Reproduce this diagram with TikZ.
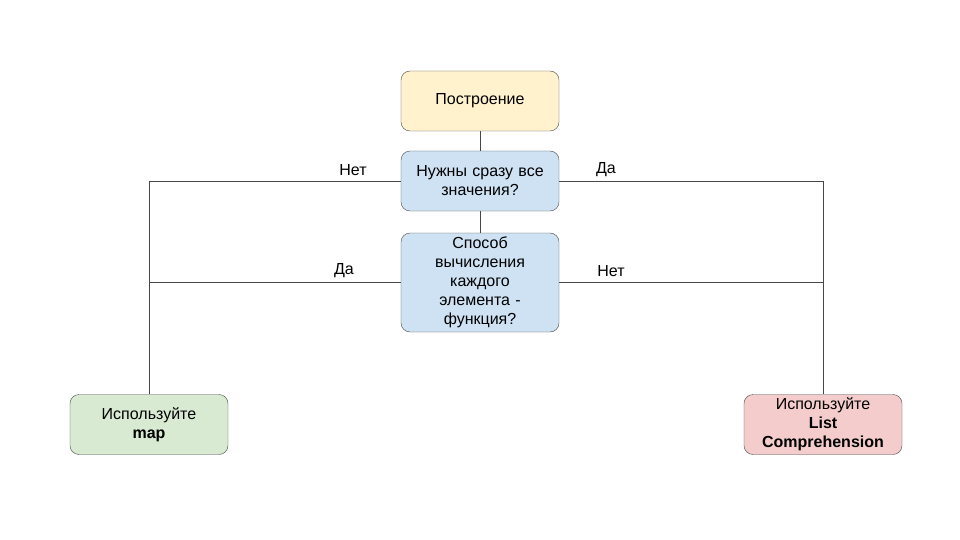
\documentclass[tikz,border=0pt]{standalone}
\usepackage{fontspec}
\setmainfont{Liberation Sans}
\usetikzlibrary{positioning, calc}
\definecolor{buildfill}{HTML}{FFF2CC}
\definecolor{askfill}{HTML}{CFE2F3}
\definecolor{mapfill}{HTML}{D9EAD3}
\definecolor{listfill}{HTML}{F4CCCC}
\definecolor{edgegray}{HTML}{474747}
\tikzset{
  box/.style={draw=edgegray, rounded corners=9pt, minimum width=158pt,
    minimum height=60pt, text width=150pt, align=center},
  lbl/.style={inner sep=1pt},
  wire/.style={draw=edgegray, line width=0.8pt}
}

\begin{document}
\begin{tikzpicture}[x=1pt, y=-1pt, font=\fontsize{16}{19}\selectfont]
    \useasboundingbox (0, 0) rectangle (960, 540);
    % boxes
    \node[box, fill=buildfill] (build) at (480, 101) {Построение};
    \node[box, fill=askfill] (need) at (480, 181) {Нужны сразу все\\значения?};
    \node[box, fill=askfill, minimum height=99pt] (func) at (480, 282.5)
        {Способ\\вычисления\\каждого\\элемента -\\функция?};
    \node[box, fill=mapfill] (usemap) at (149, 424.5) {Используйте\\\textbf{map}};
    \node[box, fill=listfill] (uselist) at (823, 424.5)
        {Используйте\\\textbf{List}\\\textbf{Comprehension}};
    % lines
    \draw[wire] (build) -- (need);
    \draw[wire] (need) -- (func);
    \draw[wire] (need.west) -| (usemap.north);
    \draw[wire] (need.east) -| (uselist.north);
    \draw[wire] (func.west) -- (func.west -| usemap.north);
    \draw[wire] (func.east) -- (func.east -| uselist.north);
    % labels
    \node[lbl] (noA) at (353, 170) {Нет};
    \node[lbl] (yesA) at (606, 170) {Да};
    \node[lbl] (yesB) at (344, 271) {Да};
    \node[lbl] (noB) at (611, 271) {Нет};
\end{tikzpicture}
\end{document}
